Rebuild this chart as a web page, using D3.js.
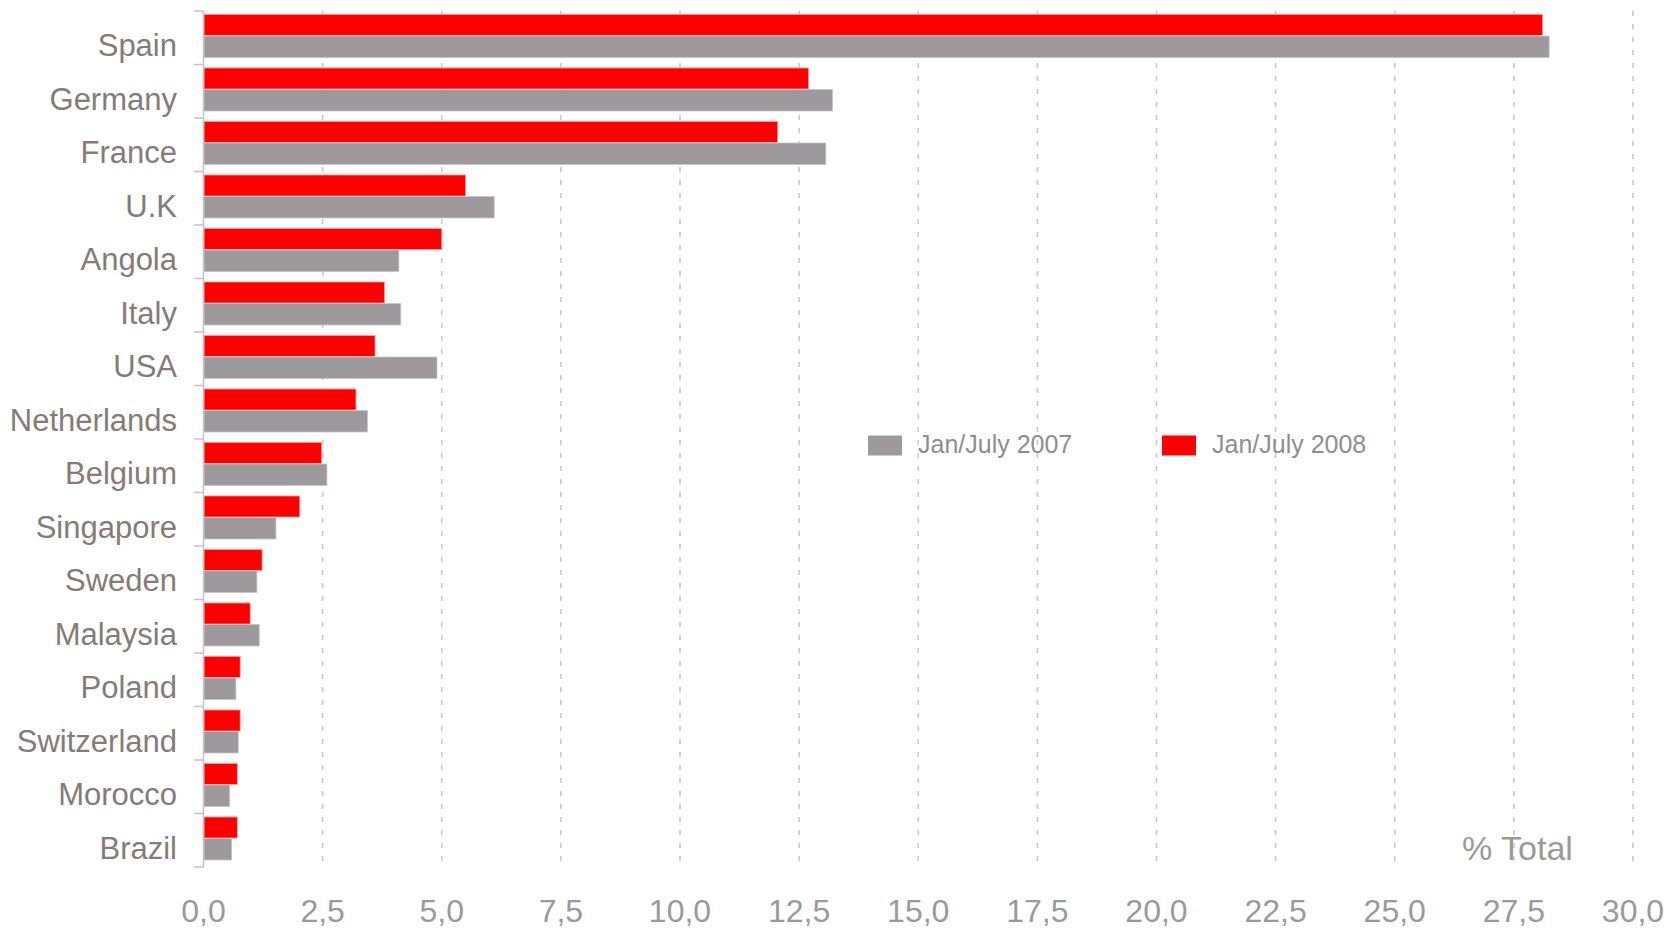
<!DOCTYPE html>
<html>
<head>
<meta charset="utf-8">
<script src="https://cdn.jsdelivr.net/npm/d3@7"></script>
<style>
  html, body { margin: 0; padding: 0; background: #fff; }
  svg { display: block; }
</style>
</head>
<body>
<svg id="chart" width="1677" height="928"></svg>
<script>
const categories = ["Spain","Germany","France","U.K","Angola","Italy","USA","Netherlands","Belgium","Singapore","Sweden","Malaysia","Poland","Switzerland","Morocco","Brazil"];
const values2008 = [28.1, 12.7, 12.05, 5.5, 5.0, 3.8, 3.6, 3.2, 2.48, 2.02, 1.23, 0.98, 0.77, 0.77, 0.71, 0.71];
const values2007 = [28.24, 13.2, 13.06, 6.1, 4.1, 4.14, 4.9, 3.44, 2.59, 1.52, 1.12, 1.17, 0.68, 0.73, 0.55, 0.59];
const xTicks = [0, 2.5, 5, 7.5, 10, 12.5, 15, 17.5, 20, 22.5, 25, 27.5, 30];
const seriesNames = ["Jan/July 2007", "Jan/July 2008"];
const seriesColors = ["#9d999d", "#ff0000"];

const svg = d3.select("#chart");
const x = d3.scaleLinear().domain([0, 30]).range([203.5, 1633]);
const y = d3.scaleBand().domain(categories).range([11, 867]).padding(0);

const fmt = v => d3.format(".1f")(v).replace(".", ",");

// grid
svg.append("g").selectAll("line")
  .data(xTicks.filter(d => d > 0))
  .join("line")
  .attr("x1", d => x(d)).attr("x2", d => x(d))
  .attr("y1", 11).attr("y2", 867)
  .attr("stroke", "#cbc6cb").attr("stroke-width", 1.6)
  .attr("stroke-dasharray", "5,8");

// bars
const rows = svg.append("g").selectAll("g")
  .data(categories.map((c, i) => ({c, v07: values2007[i], v08: values2008[i]})))
  .join("g");

rows.append("rect")
  .attr("x", x(0) + 0.5)
  .attr("y", d => y(d.c) + 3.5)
  .attr("width", d => x(d.v08) - x(0) - 0.5)
  .attr("height", 21)
  .attr("fill", seriesColors[1])
  .attr("stroke", "#ff9a9a").attr("stroke-width", 0.8);

rows.append("rect")
  .attr("x", x(0) + 0.5)
  .attr("y", d => y(d.c) + 25)
  .attr("width", d => x(d.v07) - x(0) - 0.5)
  .attr("height", 21.5)
  .attr("fill", seriesColors[0])
  .attr("stroke", "#c9c3c9").attr("stroke-width", 0.8);

// y axis line & ticks
svg.append("line")
  .attr("x1", x(0)).attr("x2", x(0)).attr("y1", 11).attr("y2", 867)
  .attr("stroke", "#c8bfc8").attr("stroke-width", 1.5);
const bounds = categories.map(c => y(c)).concat([867]);
svg.append("g").selectAll("line").data(bounds).join("line")
  .attr("x1", 194).attr("x2", x(0)).attr("y1", d => d).attr("y2", d => d)
  .attr("stroke", "#c8bfc8").attr("stroke-width", 1.5);

// category labels
svg.append("g").selectAll("text").data(categories).join("text")
  .attr("x", 177)
  .attr("y", d => y(d) + y.bandwidth() / 2 + 18.5)
  .attr("text-anchor", "end")
  .attr("font-family", "Liberation Sans, Arial, sans-serif")
  .attr("font-size", 31)
  .attr("fill", "#857b78")
  .text(d => d);

// x tick labels
svg.append("g").selectAll("text").data(xTicks).join("text")
  .attr("x", d => x(d))
  .attr("y", 922)
  .attr("text-anchor", "middle")
  .attr("font-family", "Liberation Sans, Arial, sans-serif")
  .attr("font-size", 32)
  .attr("fill", "#9a9a9a")
  .text(d => fmt(d));

// % Total
svg.append("text")
  .attr("x", 1462).attr("y", 860)
  .attr("font-family", "Liberation Sans, Arial, sans-serif")
  .attr("font-size", 34)
  .attr("fill", "#9a9a9a")
  .text("% Total");

// legend
const legendX = [868, 1162];
const lg = svg.append("g").selectAll("g").data(seriesNames).join("g");
lg.append("rect")
  .attr("x", (d, i) => legendX[i]).attr("y", 435.5)
  .attr("width", 34).attr("height", 20)
  .attr("fill", (d, i) => seriesColors[i]);
lg.append("text")
  .attr("x", (d, i) => legendX[i] + 50).attr("y", 452.5)
  .attr("font-family", "Liberation Sans, Arial, sans-serif")
  .attr("font-size", 25)
  .attr("fill", "#8e8e8e")
  .text(d => d);
</script>
</body>
</html>
